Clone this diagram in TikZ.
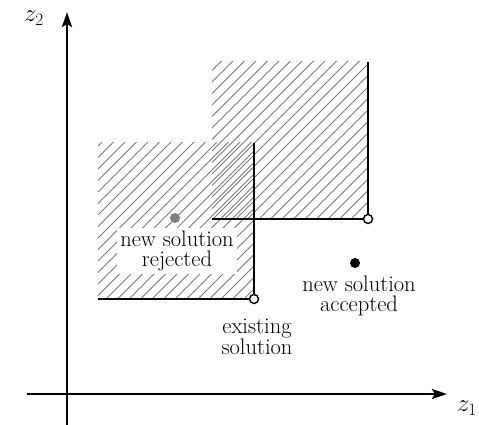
\documentclass[tikz,border=0pt]{standalone}
\usetikzlibrary{arrows.meta}
\begin{document}
\begin{tikzpicture}[x=1pt,y=-1pt,
  axis/.style={line width=2.8pt,-{Stealth[length=15pt,width=10pt,inset=3pt]}},
  front/.style={line width=2.5pt},
  hatch/.style={draw=black!52,line width=1pt},
  lbl/.style={font=\fontsize{22.5}{20.5}\selectfont,align=center,inner sep=1pt},
  opendot/.style={circle,draw=black,fill=white,line width=1.4pt,inner sep=0pt,minimum size=9pt},
  soliddot/.style={circle,fill=black,inner sep=0pt,minimum size=10pt},
  greydot/.style={circle,fill=gray,inner sep=0pt,minimum size=10pt}]
\useasboundingbox (0,0) rectangle (479,425);
% hatched regions
\begin{scope}
  \clip (98,143) rectangle (254,299);
  \foreach \k in {-170,-158.5,...,270} \draw[hatch] (\k,299) -- ++(170,-170);
\end{scope}
\begin{scope}
  \clip (212,62) rectangle (368,219);
  \foreach \k in {40.5,52,...,400} \draw[hatch] (\k,219) -- ++(170,-170);
\end{scope}
% coordinates
\coordinate (f1top) at (254,143);
\coordinate (f1left) at (98,299);
\coordinate (f2top) at (368,62);
\coordinate (f2left) at (212,219);
\coordinate (ybot) at (67,425);
\coordinate (ytop) at (67,12);
\coordinate (xleft) at (27,394);
\coordinate (xright) at (447,394);
% frontier lines
\node[opendot] (ex) at (254,299) {};
\node[opendot] (nd) at (368,219) {};
\draw[front] (f1left) -- (ex.west);
\draw[front] (f1top) -- (ex.north);
\draw[front] (f2left) -- (nd.west);
\draw[front] (f2top) -- (nd.north);
% axes
\draw[axis] (ybot) -- (ytop);
\draw[axis] (xleft) -- (xright);
\node[font=\fontsize{25}{25}\selectfont] (z2) at (34,18) {$z_2$};
\node[font=\fontsize{25}{25}\selectfont] (z1) at (467,408) {$z_1$};
% points and labels
\node[greydot] (rej) at (175,218) {};
\node[lbl,fill=white,inner xsep=3pt,inner ysep=3pt] (rejl) at (177,251) {new solution\\rejected};
\node[soliddot] (acc) at (355,263) {};
\node[lbl] (accl) at (359,296) {new solution\\accepted};
\node[lbl] (exl) at (257,337) {existing\\solution};
\end{tikzpicture}
\end{document}
